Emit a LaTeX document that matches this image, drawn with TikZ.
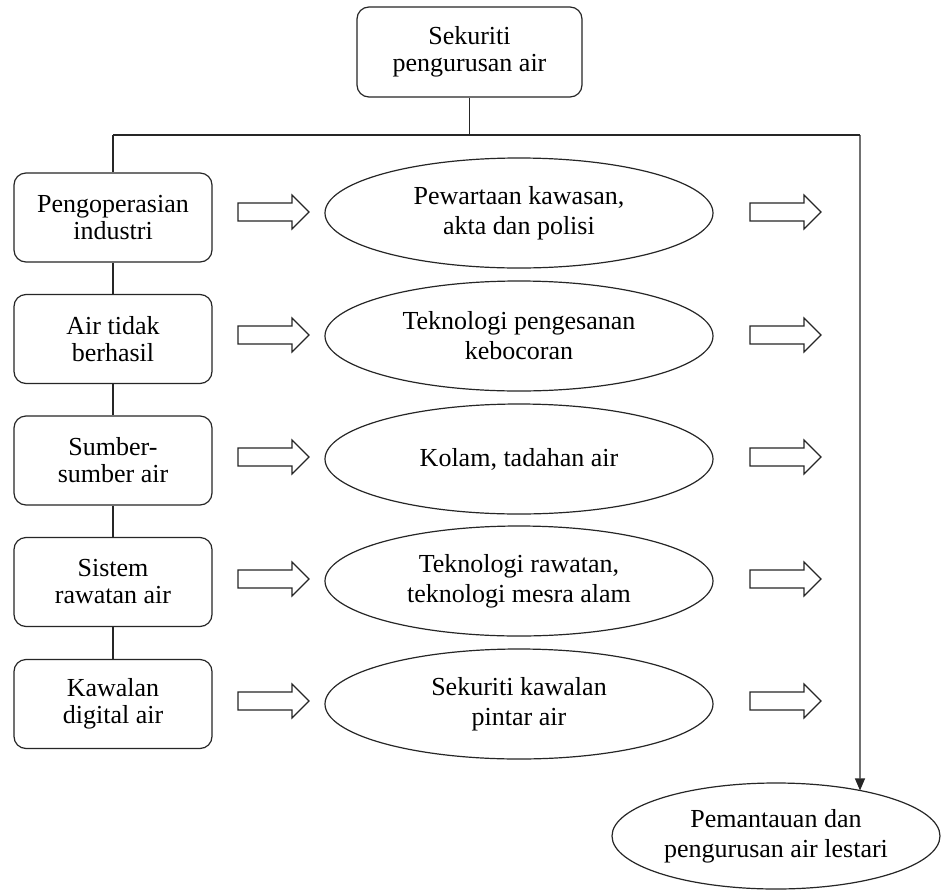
\documentclass[tikz,border=0pt]{standalone}
\usepackage{fontspec}
\setmainfont{Liberation Serif}
\usetikzlibrary{shapes.geometric,arrows.meta,intersections}
\begin{document}
\begin{tikzpicture}[x=1pt,y=-1pt,
  ink/.style={draw=black!85,line width=1.2pt},
  label/.style={align=center,font=\rmfamily\fontsize{26}{27}\selectfont,text=black},
  headbox/.style={ink,label,rounded corners=12pt,minimum width=225pt,minimum height=90pt,inner sep=0pt},
  factorbox/.style={ink,label,rounded corners=12pt,minimum width=198pt,minimum height=89pt,inner sep=0pt},
  measure/.style={ink,ellipse,align=center,text=black,font=\rmfamily\fontsize{26}{30}\selectfont,minimum width=388pt,minimum height=110pt,inner sep=0pt},
  goal/.style={ink,ellipse,align=center,text=black,font=\rmfamily\fontsize{26}{30}\selectfont,minimum width=328pt,minimum height=106pt,inner sep=0pt},
  link/.style={draw=black!85,line width=1.1pt},
  fatarrow/.pic={\draw[ink,line join=miter] (0,-9) -- (54,-9) -- (54,-17) -- (71,0) -- (54,17) -- (54,9) -- (0,9) -- cycle;}
]
\fill[white] (0,0) rectangle (946,892);
\useasboundingbox (0,0) rectangle (946,892);

% top box
\node[headbox] (top) at (469.5,52) {Sekuriti\\pengurusan air};

% factor boxes on the left
\node[factorbox] (b1) at (113,217.5) {Pengoperasian\\industri};
\node[factorbox] (b2) at (113,339) {Air tidak\\berhasil};
\node[factorbox] (b3) at (113,460.5) {Sumber-\\sumber air};
\node[factorbox] (b4) at (113,582) {Sistem\\rawatan air};
\node[factorbox] (b5) at (113,704) {Kawalan\\digital air};

% measures in the middle
\node[measure] (e1) at (519,213) {Pewartaan kawasan,\\akta dan polisi};
\node[measure] (e2) at (519,336) {Teknologi pengesanan\\kebocoran};
\node[measure] (e3) at (519,459) {Kolam, tadahan air};
\node[measure] (e4) at (519,581) {Teknologi rawatan,\\teknologi mesra alam};
\node[measure] (e5) at (519,704) {Sekuriti kawalan\\pintar air};

% outcome
\node[goal] (bot) at (776,836) {Pemantauan dan\\pengurusan air lestari};

% hollow block arrows
\foreach \yy in {212,335,457,579,701}{
  \pic at (238,\yy) {fatarrow};
  \pic at (750,\yy) {fatarrow};
}

% tree connectors
\coordinate (jl) at (113,135);
\coordinate (jr) at (860,135);
\coordinate (jt) at (top.south |- jl);
\draw[link] (top.south) -- (jt);
\draw[link] (jl) -- (jr);
\draw[link] (jl) -- (b1.north);
\draw[link] (b1.south) -- (b2.north);
\draw[link] (b2.south) -- (b3.north);
\draw[link] (b3.south) -- (b4.north);
\draw[link] (b4.south) -- (b5.north);

% right-hand drop into the outcome ellipse
\path[name path=botrim] (bot.center) ellipse [x radius=164pt, y radius=53pt];
\path[name path=rdrop] (jr) -- ++(0,800);
\path[name intersections={of=botrim and rdrop, by=hit}];
\draw[link,-{Triangle[width=10pt,length=12pt]}] (jr) -- (hit);
\end{tikzpicture}
\end{document}
